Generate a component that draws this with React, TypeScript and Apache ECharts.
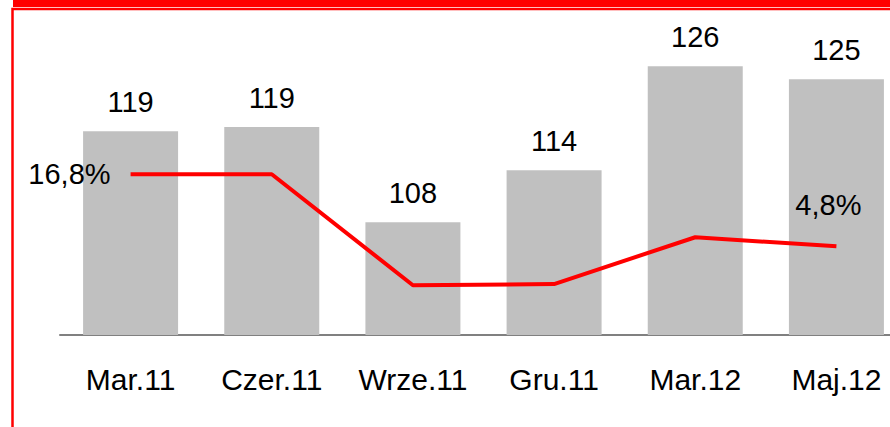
import React, { useEffect, useRef } from "react";
import * as echarts from "echarts";

const categories = ["Mar.11", "Czer.11", "Wrze.11", "Gru.11", "Mar.12", "Maj.12"];
const barValues = [118.5, 119.0, 108.0, 114.0, 126.0, 124.5];
const lineValues = [16.8, 16.8, -1.7, -1.5, 6.3, 4.8];
const lineLabels = ["16,8%", "", "", "", "", "4,8%"];

const FONT = "Liberation Sans, Arial, sans-serif";

export default function App() {
  const ref = useRef<HTMLDivElement>(null);
  useEffect(() => {
    if (!ref.current) return;
    const chart = echarts.init(ref.current, undefined, { renderer: "svg" });
    chart.setOption({
      animation: false,
      backgroundColor: "#ffffff",
      grid: { left: 60, top: 10, width: 847, height: 325 },
      xAxis: {
        type: "category",
        data: categories,
        axisLine: { show: true, onZero: false, lineStyle: { color: "#808080", width: 2 } },
        axisTick: { show: false },
        axisLabel: { color: "#000", fontSize: 30, fontFamily: FONT, margin: 29, interval: 0 },
      },
      yAxis: [
        { type: "value", min: 95, max: 132.5, show: false, splitLine: { show: false } },
        { type: "value", min: -10, max: 44.2, show: false, splitLine: { show: false } },
      ],
      series: [
        {
          type: "bar",
          data: barValues,
          barWidth: 95,
          itemStyle: { color: "#C0C0C0" },
          label: {
            show: true,
            position: "top",
            distance: 15,
            color: "#000",
            fontSize: 29,
            fontFamily: FONT,
            formatter: (p: any) => String(Math.round(p.value)),
          },
        },
        {
          type: "line",
          yAxisIndex: 1,
          data: lineValues.map((v, i) => ({
            value: v,
            label:
              i === 0
                ? { show: true, position: "left", distance: 20 }
                : i === lineValues.length - 1
                ? { show: true, position: "top", distance: 5, offset: [-8, -22] }
                : { show: false },
          })),
          symbol: "circle",
          symbolSize: 0,
          showSymbol: true,
          lineStyle: { color: "#FF0000", width: 4 },
          itemStyle: { color: "#FF0000" },
          label: {
            show: false,
            color: "#000",
            fontSize: 29,
            fontFamily: FONT,
            formatter: (p: any) => lineLabels[p.dataIndex],
          },
          z: 5,
        },
      ],
      graphic: [
        { type: "rect", shape: { x: 13, y: 0, width: 900, height: 7 }, style: { fill: "#FF0000" }, silent: true },
        {
          type: "rect",
          shape: { x: 12.5, y: 9, width: 920, height: 500 },
          style: { fill: "none", stroke: "#FF0000", lineWidth: 2.5 },
          silent: true,
        },
      ],
    });
    return () => chart.dispose();
  }, []);
  return (
    <div style={{ position: "fixed", left: 0, top: 0, width: 890, height: 427, overflow: "hidden" }}>
      <div ref={ref} style={{ position: "absolute", left: 0, top: 0, width: 930, height: 427 }} />
    </div>
  );
}
